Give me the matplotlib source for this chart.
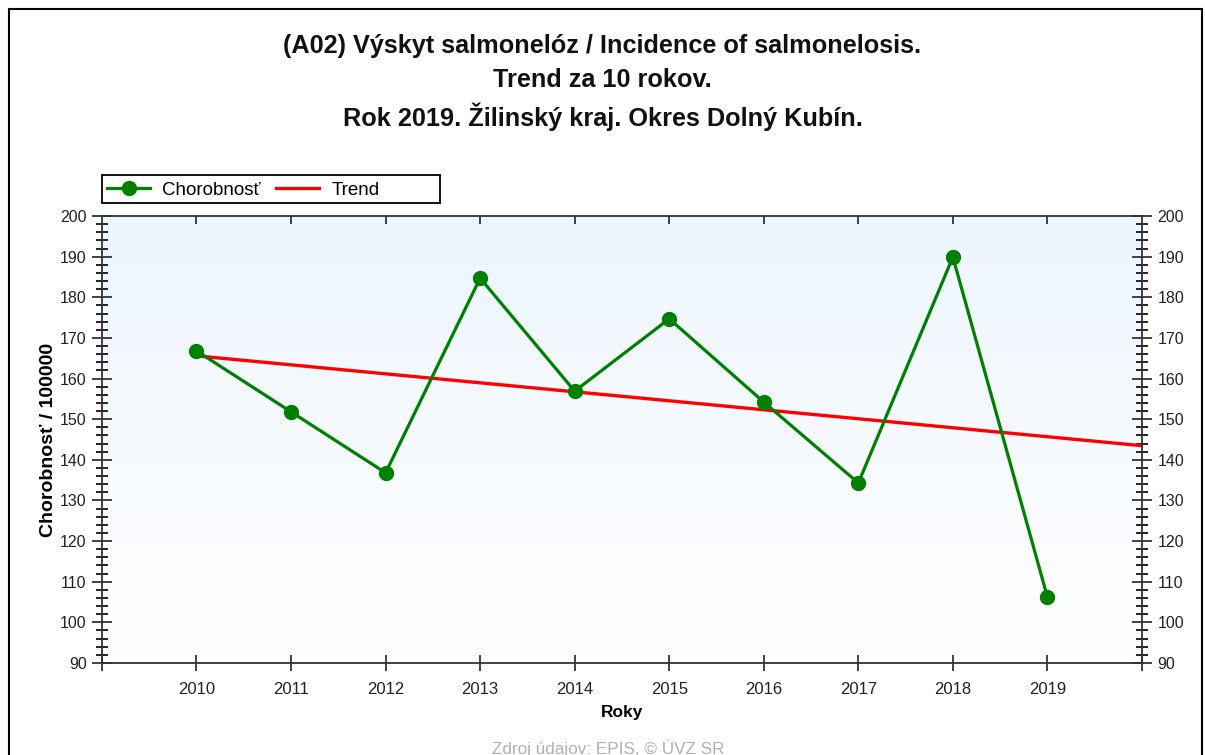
import numpy as np
import matplotlib
matplotlib.use("Agg")
from matplotlib import pyplot as plt
from matplotlib.patches import Rectangle
from matplotlib.ticker import MultipleLocator

years = [2010, 2011, 2012, 2013, 2014, 2015, 2016, 2017, 2018, 2019]
incidence = [166.8, 151.8, 136.8, 184.7, 156.9, 174.7, 154.2, 134.3, 189.9, 106.2]

title_lines = [
    "(A02) Výskyt salmonelóz / Incidence of salmonelosis.",
    "Trend za 10 rokov.",
    "Rok 2019. Žilinský kraj. Okres Dolný Kubín.",
]

plt.rcParams["font.family"] = ["Liberation Sans", "DejaVu Sans"]

fig = plt.figure(figsize=(12.05, 7.55), dpi=100)
ax = fig.add_axes([0.0846, 0.1219, 0.8631, 0.5920])

# background gradient: light blue at top, white at bottom
grad = np.linspace(0, 1, 256).reshape(-1, 1)
cmap = matplotlib.colors.LinearSegmentedColormap.from_list("bg", ["#ffffff", "#edf5fd"])
ax.imshow(grad, extent=[2009, 2020, 90, 200], origin="lower", aspect="auto",
          cmap=cmap, zorder=0)

# trend (least squares over the data)
k, q = np.polyfit(years, incidence, 1)
tx = np.array([years[0], 2020])
ax.plot(tx, k * tx + q, color="#ff0000", lw=2.4, zorder=2, label="Trend")
ax.plot(years, incidence, color="#008000", lw=2.3, marker="o", ms=10,
        zorder=3, label="Chorobnosť")

ax.set_xlim(2009, 2020)
ax.set_ylim(90, 200)

ax.set_xticks(range(2009, 2021))
ax.set_xticklabels([""] + [str(y) for y in years] + [""])
ax.yaxis.set_major_locator(MultipleLocator(10))
ax.yaxis.set_minor_locator(MultipleLocator(2))
ax.tick_params(axis="x", direction="inout", length=11, width=1.2,
               labelsize=12, pad=8, colors="#222222")
ax.tick_params(axis="y", which="major", direction="inout", length=14, width=1.2,
               left=True, right=True, labelleft=True, labelright=True,
               labelsize=11.5, pad=4, colors="#222222")
ax.tick_params(axis="y", which="minor", direction="inout", length=8, width=1.2,
               left=True, right=True)

top = ax.secondary_xaxis("top")
top.set_xticks(years)
top.tick_params(direction="in", length=6, width=1.2, labeltop=False, colors="#222222")
top.spines["top"].set_visible(False)

for s in ax.spines.values():
    s.set_color("#333333")
    s.set_linewidth(1.3)

ax.set_xlabel("Roky", fontsize=12.5, fontweight="bold", labelpad=6)
ax.set_ylabel("Chorobnosť / 100000", fontsize=14, fontweight="bold", labelpad=2)

h, l = ax.get_legend_handles_labels()
leg = fig.legend(h[::-1], l[::-1], ncol=2, loc="center left",
                 bbox_to_anchor=(107 / 1205, 1 - 190 / 755),
                 fontsize=13.5, frameon=False,
                 handlelength=2.3, handletextpad=0.65, columnspacing=0.8,
                 borderpad=0, borderaxespad=0)

fig.patches.append(Rectangle((102 / 1205, 1 - 203 / 755), 338 / 1205, 28 / 755,
                             transform=fig.transFigure, fill=False,
                             edgecolor="#000000", lw=1.3))

ys = [46, 80, 117]
for t, y in zip(title_lines, ys):
    fig.text(0.5, 1 - y / 755, t, ha="center", va="center",
             fontsize=18.2, fontweight="bold", color="#111111")

fig.text(0.505, 1 - 748 / 755, "Zdroj údajov: EPIS, © ÚVZ SR", ha="center",
         va="center", fontsize=12.3, color="#b0b0b0")

fig.patches.append(Rectangle((9 / 1205, -0.05), 1193 / 1205, 1.05 - 9 / 755,
                             transform=fig.transFigure, fill=False,
                             edgecolor="#000000", lw=1.5))

fig.savefig("out.png", dpi=100)
